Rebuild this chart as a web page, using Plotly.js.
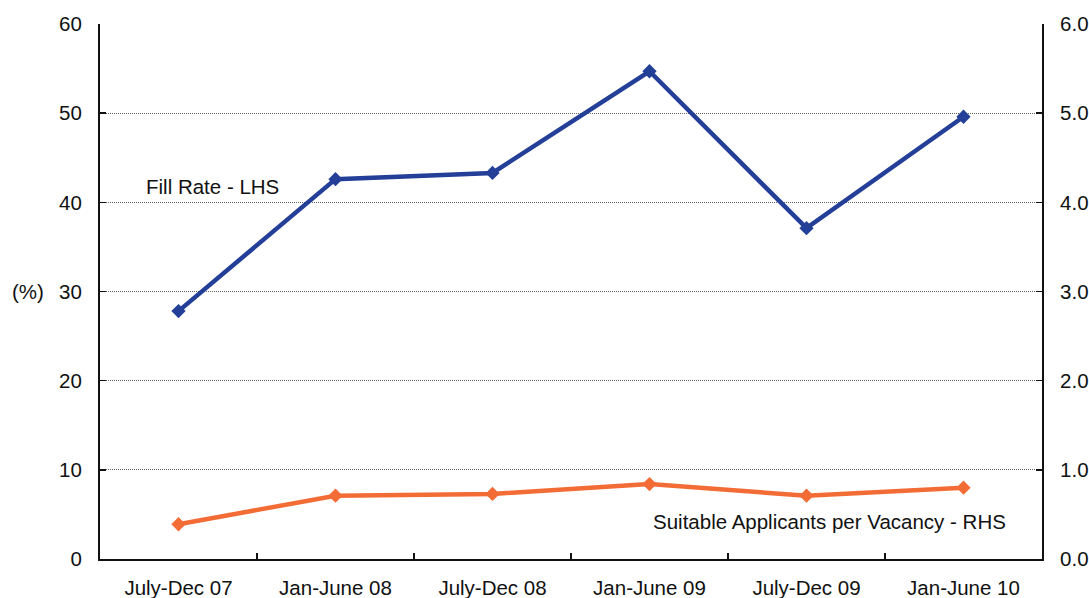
<!DOCTYPE html>
<html>
<head>
<meta charset="utf-8">
<script src="https://cdn.plot.ly/plotly-3.0.1.min.js"></script>
<style>
  html, body { margin: 0; padding: 0; background: #fff; }
  #chart { width: 1089px; height: 598px; }
</style>
</head>
<body>
<div id="chart"></div>
<script>
// Data
const periods = ["July-Dec 07", "Jan-June 08", "July-Dec 08", "Jan-June 09", "July-Dec 09", "Jan-June 10"];
const fillRate = [27.8, 42.6, 43.3, 54.7, 37.1, 49.6];          // % (LHS)
const applicantsPerVacancy = [0.39, 0.71, 0.73, 0.84, 0.71, 0.80]; // ratio (RHS)
const leftTicks = [0, 10, 20, 30, 40, 50, 60];
const rightTicks = [0, 1, 2, 3, 4, 5, 6];

const FONT = "Liberation Sans, Arial, sans-serif";
const FS = 20.5;
const BLUE = "#243F98";
const ORANGE = "#F36C35";

const traces = [
  {
    x: periods, y: fillRate, type: "scatter", mode: "lines+markers",
    name: "Fill Rate - LHS",
    line: { color: BLUE, width: 4.5 },
    marker: { symbol: "diamond", size: 11, color: BLUE },
    yaxis: "y", cliponaxis: false
  },
  {
    x: periods, y: applicantsPerVacancy, type: "scatter", mode: "lines+markers",
    name: "Suitable Applicants per Vacancy - RHS",
    line: { color: ORANGE, width: 4.5 },
    marker: { symbol: "diamond", size: 11, color: ORANGE },
    yaxis: "y2", cliponaxis: false
  }
];

const layout = {
  width: 1089, height: 598,
  margin: { l: 100, r: 47, t: 24, b: 39 },
  paper_bgcolor: "#fff", plot_bgcolor: "#fff",
  font: { family: FONT, size: FS, color: "#111" },
  showlegend: false,
  xaxis: {
    type: "category",
    categoryorder: "array", categoryarray: periods,
    range: [-0.5, 5.5],
    showline: true, linecolor: "#111", linewidth: 2,
    ticks: "inside", ticklen: 6, tickcolor: "#111", tickwidth: 1.5,
    tickson: "boundaries",
    showgrid: false, zeroline: false,
    ticklabelstandoff: 9,
    tickfont: { family: FONT, size: FS, color: "#111" }
  },
  yaxis: {
    range: [0, 60],
    tickvals: leftTicks,
    showline: true, linecolor: "#111", linewidth: 2,
    ticks: "inside", ticklen: 6, tickcolor: "#111", tickwidth: 1.5,
    showgrid: true, gridcolor: "#666", gridwidth: 1, griddash: "1px,1px",
    zeroline: false,
    ticklabelstandoff: 12,
    tickfont: { family: FONT, size: FS, color: "#111" }
  },
  yaxis2: {
    range: [0, 6],
    tickvals: rightTicks,
    tickformat: ".1f",
    overlaying: "y", side: "right",
    showline: true, linecolor: "#111", linewidth: 2,
    ticks: "inside", ticklen: 6, tickcolor: "#111", tickwidth: 1.5,
    showgrid: false, zeroline: false,
    ticklabelstandoff: 12,
    tickfont: { family: FONT, size: FS, color: "#111" }
  },
  annotations: [
    {
      text: "(%)", xref: "paper", yref: "y", x: -0.0764, y: 30,
      xanchor: "center", yanchor: "middle", showarrow: false,
      font: { family: FONT, size: FS, color: "#111" }
    },
    {
      text: "Fill Rate - LHS", xref: "paper", yref: "y", x: 0.047, y: 41.8,
      xanchor: "left", yanchor: "middle", showarrow: false,
      font: { family: FONT, size: FS, color: "#111" }
    },
    {
      text: "Suitable Applicants per Vacancy - RHS", xref: "paper", yref: "y", x: 0.964, y: 4.2,
      xanchor: "right", yanchor: "middle", showarrow: false,
      font: { family: FONT, size: FS, color: "#111" }
    }
  ]
};

Plotly.newPlot("chart", traces, layout, { staticPlot: true, displayModeBar: false });
</script>
</body>
</html>
